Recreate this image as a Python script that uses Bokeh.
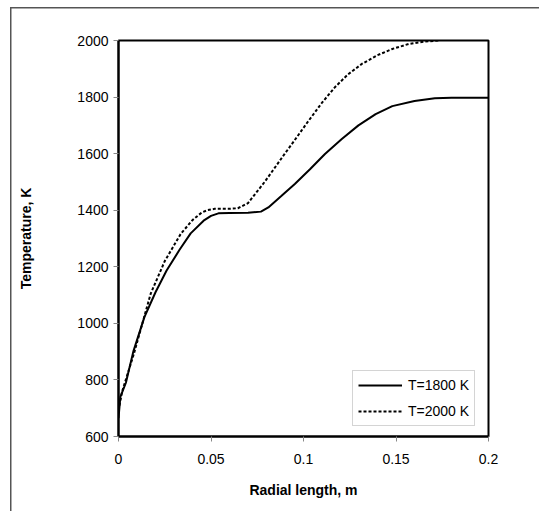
from bokeh.plotting import figure
from bokeh.models import Range1d, FixedTicker, Legend, LegendItem
from bokeh.embed import file_html
from bokeh.resources import INLINE

# ---- data ----
r_1800 = [0, 0.001, 0.004, 0.008, 0.014, 0.020, 0.026, 0.033, 0.039, 0.046, 0.050,
          0.054, 0.060, 0.070, 0.077, 0.081, 0.088, 0.0953, 0.1035, 0.1116, 0.1207,
          0.1297, 0.139, 0.148, 0.160, 0.171, 0.180, 0.200]
T_1800 = [665, 740, 790, 900, 1022, 1110, 1187, 1260, 1318, 1363, 1380,
          1389, 1390, 1391, 1395, 1410, 1450, 1493, 1545, 1599, 1652,
          1700, 1740, 1768, 1786, 1796, 1798, 1798]

r_2000 = [0, 0.002, 0.0083, 0.0174, 0.025, 0.0337, 0.040, 0.045, 0.048, 0.052,
          0.060, 0.0645, 0.070, 0.079, 0.0898, 0.0935, 0.099, 0.1025, 0.110,
          0.117, 0.124, 0.1315, 0.140, 0.148, 0.157, 0.165, 0.173]
T_2000 = [692, 760, 892, 1105, 1220, 1317, 1365, 1392, 1400, 1405,
          1405, 1407, 1425, 1500, 1599, 1632, 1682, 1714, 1780,
          1835, 1880, 1917, 1948, 1970, 1988, 1996, 2000]

x_ticks = [0, 0.05, 0.1, 0.15, 0.2]
x_tick_labels = ["0", "0.05", "0.1", "0.15", "0.2"]
y_ticks = [600, 800, 1000, 1200, 1400, 1600, 1800, 2000]

FONT = "Liberation Sans"

p = figure(width=539, height=511, output_backend="svg", toolbar_location=None,
           x_range=Range1d(0, 0.2), y_range=Range1d(600, 2000),
           min_border_left=118, min_border_right=51,
           min_border_top=40, min_border_bottom=75)
p.background_fill_color = "white"
p.border_fill_color = "white"
p.border_fill_alpha = 0
p.styles = {
    "background": "linear-gradient(#555555, #555555) 10px 7px / 1.5px 700px no-repeat, "
                  "linear-gradient(#555555, #555555) 10px 7px / 700px 1.5px no-repeat, white"
}
p.grid.visible = False
p.outline_line_color = "black"
p.outline_line_width = 2

for ax in (p.xaxis[0], p.yaxis[0]):
    ax.axis_line_color = "black"
    ax.axis_line_width = 2
    ax.major_tick_line_color = "#888888"
    ax.major_tick_out = 5
    ax.major_tick_in = 0
    ax.minor_tick_line_color = None
    ax.major_label_text_font = FONT
    ax.major_label_text_font_size = "14px"
    ax.major_label_text_color = "black"
    ax.axis_label_text_font = FONT
    ax.axis_label_text_font_size = "14px"
    ax.axis_label_text_font_style = "bold"
    ax.axis_label_text_color = "black"

p.xaxis.ticker = FixedTicker(ticks=x_ticks)
p.xaxis.major_label_overrides = {t: l for t, l in zip(x_ticks, x_tick_labels)}
p.yaxis.ticker = FixedTicker(ticks=y_ticks)
p.xaxis.major_label_standoff = 12
p.yaxis.major_label_standoff = 5
p.xaxis.axis_label = "Radial length, m"
p.yaxis.axis_label = "Temperature, K"
p.xaxis.axis_label_standoff = 15
p.yaxis.axis_label_standoff = 40

l1 = p.line(r_1800, T_1800, line_color="black", line_width=2)
l2 = p.line(r_2000, T_2000, line_color="black", line_width=2, line_dash="3 2")

legend = Legend(items=[LegendItem(label="T=1800 K", renderers=[l1]),
                       LegendItem(label="T=2000 K", renderers=[l2])],
                location=(234, 10))
legend.label_text_font = FONT
legend.label_text_font_size = "14px"
legend.label_text_color = "black"
legend.border_line_color = "#aaaaaa"
legend.border_line_width = 1
legend.background_fill_color = "white"
legend.background_fill_alpha = 1
legend.padding = 5
legend.spacing = 8
legend.margin = 0
legend.label_height = 18
legend.glyph_height = 18
legend.glyph_width = 44
legend.label_standoff = 6
p.add_layout(legend)

open("out.html", "w").write(file_html(p, INLINE))
